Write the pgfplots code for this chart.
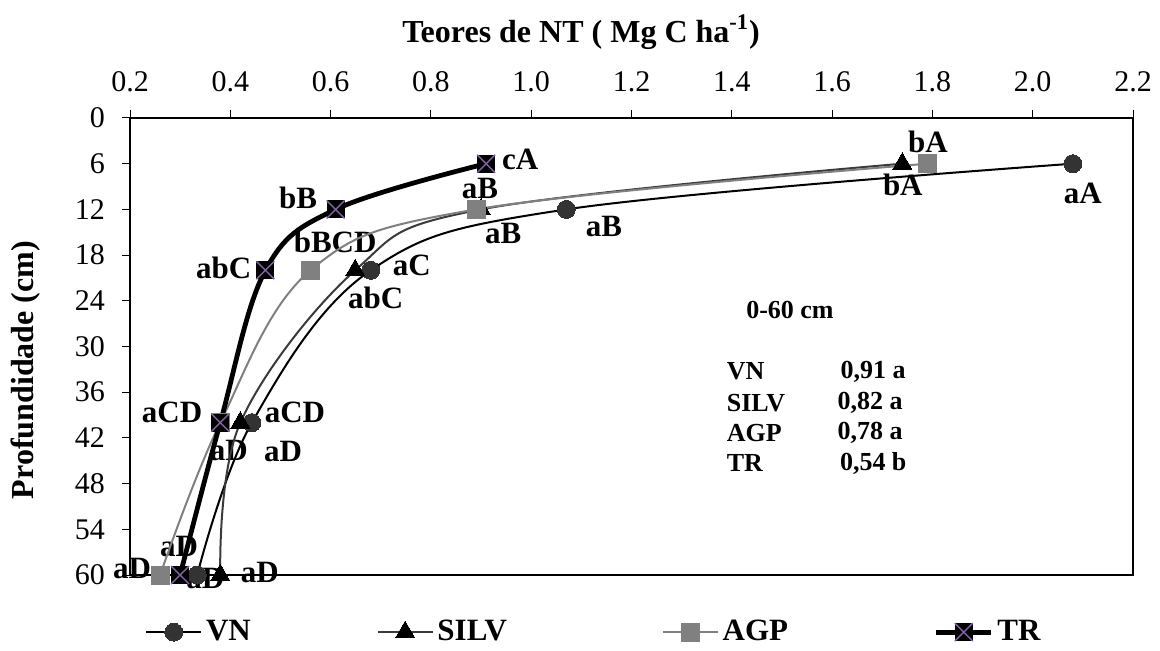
\documentclass[border=0pt]{standalone}
\usepackage{fontspec}
\setmainfont{Liberation Serif}
\usepackage{pgfplots}
\pgfplotsset{compat=1.18}
\definecolor{vnfill}{HTML}{333333}
\definecolor{silvline}{HTML}{3A3A3A}
\definecolor{agpgray}{HTML}{808080}
\definecolor{tpurple}{HTML}{8064A2}
\pgfdeclareplotmark{sqx}{%
  \pgfpathrectangle{\pgfpoint{-\pgfplotmarksize}{-\pgfplotmarksize}}{\pgfpoint{2\pgfplotmarksize}{2\pgfplotmarksize}}%
  \pgfsetfillcolor{black}\pgfusepathqfill
  \pgfsetstrokecolor{tpurple}\pgfsetlinewidth{0.7pt}%
  \pgfpathmoveto{\pgfpoint{-\pgfplotmarksize}{-\pgfplotmarksize}}\pgfpathlineto{\pgfpoint{\pgfplotmarksize}{\pgfplotmarksize}}%
  \pgfpathmoveto{\pgfpoint{-\pgfplotmarksize}{\pgfplotmarksize}}\pgfpathlineto{\pgfpoint{\pgfplotmarksize}{-\pgfplotmarksize}}%
  \pgfusepathqstroke}
\newcommand{\lbl}{\fontsize{15.5}{17}\selectfont\bfseries}
\newcommand{\boxf}{\fontsize{13}{15}\selectfont\bfseries}
\begin{document}
\begin{tikzpicture}
\begin{axis}[
  at={(0,0)}, anchor=south west,
  scale only axis, width=501.5pt, height=228.5pt,
  xmin=0.2, xmax=2.2, ymin=0, ymax=60,
  y dir=reverse, clip=false,
  xtick={0.2,0.4,...,2.2}, ytick={0,6,...,60},
  xtick pos=upper, xticklabel pos=upper, ytick pos=left,
  tick align=outside, major tick length=4pt,
  tick style={black, line width=0.5pt},
  axis line style={black, line width=0.6pt},
  x tick label style={/pgf/number format/fixed, /pgf/number format/fixed zerofill, /pgf/number format/precision=1},
  /pgf/number format/assume math mode=true,
  ticklabel style={font=\fontsize{15}{17}\selectfont},
  xticklabel style={yshift=5.5pt},
  yticklabel style={xshift=-5pt},
  legend columns=4,
  legend style={at={(0.009,-0.125)}, anchor=west, draw=none, fill=none,
    font=\lbl,
    /tikz/column 2/.style={column sep=61pt},
    /tikz/column 4/.style={column sep=75.5pt},
    /tikz/column 6/.style={column sep=71pt}},
  legend cell align=left,
  legend image code/.code={\draw[mark repeat=2,mark phase=2,#1] plot coordinates {(0cm,0cm) (0.48cm,0cm) (0.96cm,0cm)};},
]
% data labels (drawn first, beneath the curves)
\node[font=\lbl] at (axis cs:0.978,5.5) {cA};
\node[font=\lbl] at (axis cs:0.535,10.5) {bB};
\node[font=\lbl] at (axis cs:0.387,19.7) {abC};
\node[font=\lbl] at (axis cs:0.284,38.7) {aCD};
\node[font=\lbl] at (axis cs:0.298,56.3) {aD};
\node[font=\lbl] at (axis cs:0.204,59.1) {aD};
\node[font=\lbl] at (axis cs:0.35,60.4) {aD};
\node[font=\lbl] at (axis cs:0.459,59.7) {aD};
\node[font=\lbl] at (axis cs:0.898,9.2) {aB};
\node[font=\lbl] at (axis cs:0.609,16.3) {bBCD};
\node[font=\lbl] at (axis cs:0.944,15.1) {aB};
\node[font=\lbl] at (axis cs:0.762,19.3) {aC};
\node[font=\lbl] at (axis cs:0.69,23.6) {abC};
\node[font=\lbl] at (axis cs:0.529,38.7) {aCD};
\node[font=\lbl] at (axis cs:0.397,43.6) {aD};
\node[font=\lbl] at (axis cs:0.505,43.8) {aD};
\node[font=\lbl] at (axis cs:1.791,3.2) {bA};
\node[font=\lbl] at (axis cs:1.741,8.8) {bA};
\node[font=\lbl] at (axis cs:2.10,9.9) {aA};
\node[font=\lbl] at (axis cs:1.145,14.2) {aB};
% summary box
\node[font=\boxf] at (axis cs:1.516,25.2) {0-60 cm};
\node[font=\boxf, anchor=west] at (axis cs:1.376,33.3) {VN};
\node[font=\boxf, anchor=west] at (axis cs:1.376,37.4) {SILV};
\node[font=\boxf, anchor=west] at (axis cs:1.376,41.4) {AGP};
\node[font=\boxf, anchor=west] at (axis cs:1.376,45.3) {TR};
\node[font=\boxf] at (axis cs:1.682,33.3) {0,91 a};
\node[font=\boxf] at (axis cs:1.676,37.4) {0,82 a};
\node[font=\boxf] at (axis cs:1.676,41.4) {0,78 a};
\node[font=\boxf] at (axis cs:1.682,45.3) {0,54 b};
\addplot[black, line width=1pt, smooth, tension=0.6, mark=*, mark size=4.5pt, mark options={fill=vnfill, draw=vnfill, line width=0pt}]
  coordinates {(2.08,6) (1.07,12) (0.68,20) (0.443,40) (0.334,60)};
\addlegendentry{VN}
\addplot[silvline, line width=1pt, smooth, tension=0.6, mark=triangle*, mark size=5.5pt, mark options={fill=black, draw=black, line width=0pt}]
  coordinates {(1.74,6) (0.90,12) (0.649,20) (0.42,40) (0.38,60)};
\addlegendentry{SILV}
\addplot[agpgray, line width=1pt, smooth, tension=0.6, mark=square*, mark size=4.5pt, mark options={fill=agpgray, draw=agpgray, line width=0pt}]
  coordinates {(1.79,6) (0.89,12) (0.56,20) (0.38,40) (0.26,60)};
\addlegendentry{AGP}
\addplot[black, line width=2.4pt, smooth, tension=0.6, mark=sqx, mark size=4.5pt]
  coordinates {(0.91,6) (0.61,12) (0.47,20) (0.38,40) (0.30,60)};
\addlegendentry{TR}
\end{axis}
\node[font=\fontsize{16}{18}\selectfont\bfseries] at (225.5pt,271.5pt) {Teores de NT ( Mg C ha\textsuperscript{-1})};
\node[font=\fontsize{16}{18}\selectfont\bfseries, rotate=90] at (-52pt,102.5pt) {Profundidade (cm)};
\pgfresetboundingbox
\path[use as bounding box] (-65pt,-38pt) rectangle (515pt,287.5pt);
\end{tikzpicture}
\end{document}
